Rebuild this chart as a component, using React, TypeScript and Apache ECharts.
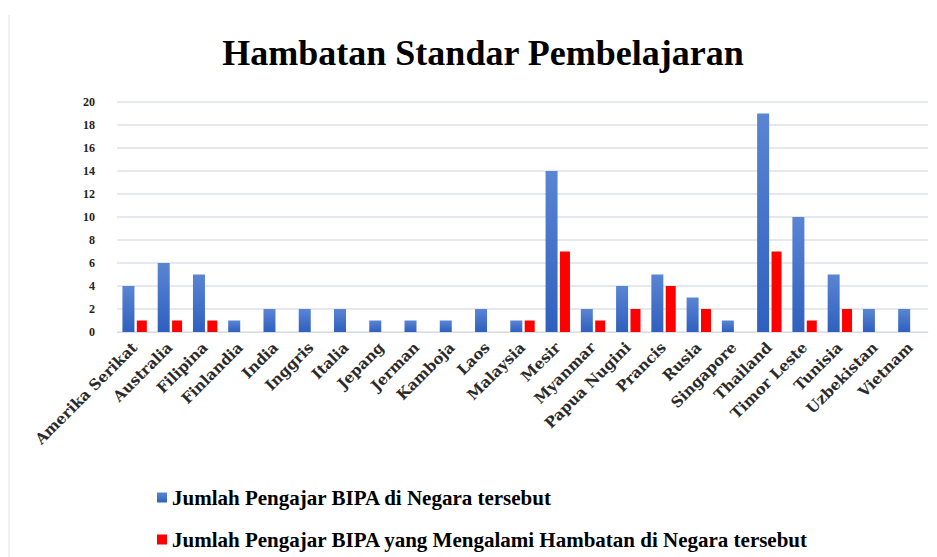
import React, { useEffect, useRef } from "react";
import * as echarts from "echarts";

const categories = [
  "Amerika Serikat", "Australia", "Filipina", "Finlandia", "India", "Inggris", "Italia",
  "Jepang", "Jerman", "Kamboja", "Laos", "Malaysia", "Mesir", "Myanmar", "Papua Nugini",
  "Prancis", "Rusia", "Singapore", "Thailand", "Timor Leste", "Tunisia", "Uzbekistan", "Vietnam",
];
const seriesNames = [
  "Jumlah Pengajar BIPA di Negara tersebut",
  "Jumlah Pengajar BIPA yang Mengalami Hambatan di Negara tersebut",
];
const pengajar = [4, 6, 5, 1, 2, 2, 2, 1, 1, 1, 2, 1, 14, 2, 4, 5, 3, 1, 19, 10, 5, 2, 2];
const hambatan = [1, 1, 1, 0, 0, 0, 0, 0, 0, 0, 0, 1, 7, 1, 2, 4, 2, 0, 7, 1, 2, 0, 0];
const titleText = "Hambatan Standar Pembelajaran";

const legendText = {
  fontFamily: "Liberation Serif",
  fontWeight: "bold",
  fontSize: 21,
  color: "#000000",
};

export default function App() {
  const ref = useRef<HTMLDivElement>(null);
  useEffect(() => {
    if (!ref.current) return;
    const chart = echarts.init(ref.current, null, { renderer: "svg" });
    chart.setOption({
      animation: false,
      backgroundColor: "#ffffff",
      title: {
        text: titleText,
        left: 478,
        top: 30,
        textAlign: "center",
        textStyle: {
          fontFamily: "Liberation Serif",
          fontWeight: "bold",
          fontSize: 36,
          color: "#000000",
        },
      },
      graphic: [
        {
          type: "line",
          shape: { x1: 9, y1: 15, x2: 9, y2: 557 },
          style: { stroke: "#ececec", lineWidth: 1.5 },
        },
      ],
      legend: [
        {
          data: [seriesNames[0]],
          left: 152,
          top: 482,
          itemWidth: 10,
          itemHeight: 10,
          itemGap: 6,
          icon: "rect",
          textStyle: legendText,
        },
        {
          data: [seriesNames[1]],
          left: 152,
          top: 524,
          itemWidth: 10,
          itemHeight: 10,
          itemGap: 6,
          icon: "rect",
          textStyle: legendText,
        },
      ],
      grid: { left: 117, right: 9, top: 102, bottom: 225 },
      xAxis: {
        type: "category",
        data: categories,
        axisLine: { lineStyle: { color: "#d9dde6" } },
        axisTick: { show: false },
        axisLabel: {
          interval: 0,
          rotate: 45,
          margin: 13,
          fontFamily: "DejaVu Serif",
          fontWeight: "bold",
          fontSize: 15,
          color: "#2a2a2a",
        },
      },
      yAxis: {
        type: "value",
        min: 0,
        max: 20,
        interval: 2,
        axisLine: { show: false },
        axisTick: { show: false },
        splitLine: { lineStyle: { color: "#dde1ea", width: 1.5 } },
        axisLabel: {
          margin: 22,
          fontFamily: "Liberation Serif",
          fontWeight: "bold",
          fontSize: 12,
          color: "#222222",
        },
      },
      series: [
        {
          name: seriesNames[0],
          type: "bar",
          data: pengajar,
          barWidth: 12,
          barGap: "20%",
          itemStyle: {
            color: new echarts.graphic.LinearGradient(0, 0, 0, 1, [
              { offset: 0, color: "#5a85d3" },
              { offset: 1, color: "#2f60bf" },
            ]),
          },
        },
        {
          name: seriesNames[1],
          type: "bar",
          data: hambatan,
          barWidth: 10,
          itemStyle: { color: "#ff0000" },
        },
      ],
    });
    return () => chart.dispose();
  }, []);
  return (
    <div
      ref={ref}
      style={{ position: "absolute", left: 0, top: 0, width: 937, height: 557 }}
    />
  );
}
